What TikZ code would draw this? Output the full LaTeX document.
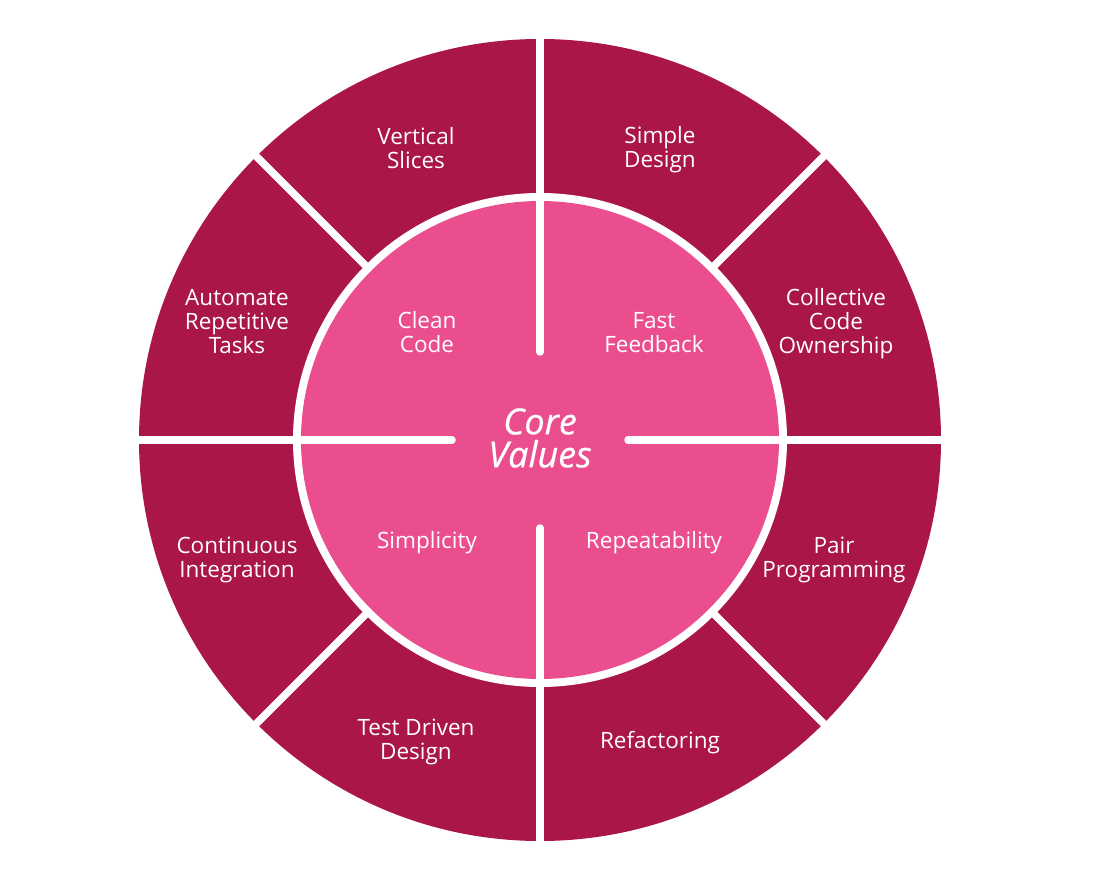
\documentclass[tikz,border=0pt]{standalone}
\usepackage{fontspec}
\setmainfont{Open Sans}
\newfontfamily\corefont[FakeBold=0.6]{Open Sans}
\usetikzlibrary{calc}
\definecolor{ringdark}{RGB}{170,21,74}
\definecolor{corepink}{RGB}{234,78,143}
\tikzset{
  lbl/.style={text=white, align=center, font=\fontsize{22.5}{24}\selectfont, inner sep=0pt},
  divider/.style={draw=white, line width=7.5pt},
  innerdiv/.style={draw=white, line width=7.5pt, line cap=round},
}
\begin{document}
\begin{tikzpicture}[x=1pt,y=-1pt]
\useasboundingbox[fill=white] (0,0) rectangle (1103,882);
\coordinate (c) at (540,440);
% rings
\fill[ringdark] (c) circle[radius=401];
\fill[white] (c) circle[radius=247];
\fill[corepink] (c) circle[radius=239];
% outer dividers
\foreach \a in {0,45,...,315}{
  \draw[divider] ($(c)+(\a:245)$) -- ($(c)+(\a:410)$);
}
% inner dividers
\foreach \a in {0,90,180,270}{
  \draw[innerdiv] ($(c)+(\a:88)$) -- ($(c)+(\a:242)$);
}
% outer labels
\node[lbl] (vs) at (416,148) {Vertical\\Slices};
\node[lbl] (sd) at (660,150) {Simple\\Design};
\node[lbl] (art) at (237,322) {Automate\\Repetitive\\Tasks};
\node[lbl] (cco) at (836,324) {Collective\\Code\\Ownership};
\node[lbl] (ci) at (237,560) {Continuous\\Integration};
\node[lbl] (pp) at (834,560) {Pair\\Programming};
\node[lbl] (tdd) at (416,742) {Test Driven\\Design};
\node[lbl] (ref) at (660,743) {Refactoring};
% inner labels
\node[lbl] (cc) at (427,332) {Clean\\Code};
\node[lbl] (ff) at (654,333) {Fast\\Feedback};
\node[lbl] (sim) at (427,543) {Simplicity};
\node[lbl] (rep) at (654,543) {Repeatability};
\node[text=white, align=center, inner sep=0pt, font=\corefont\fontsize{36}{33}\selectfont\itshape] (core) at (540,438) {Core\\Values};
\end{tikzpicture}
\end{document}
